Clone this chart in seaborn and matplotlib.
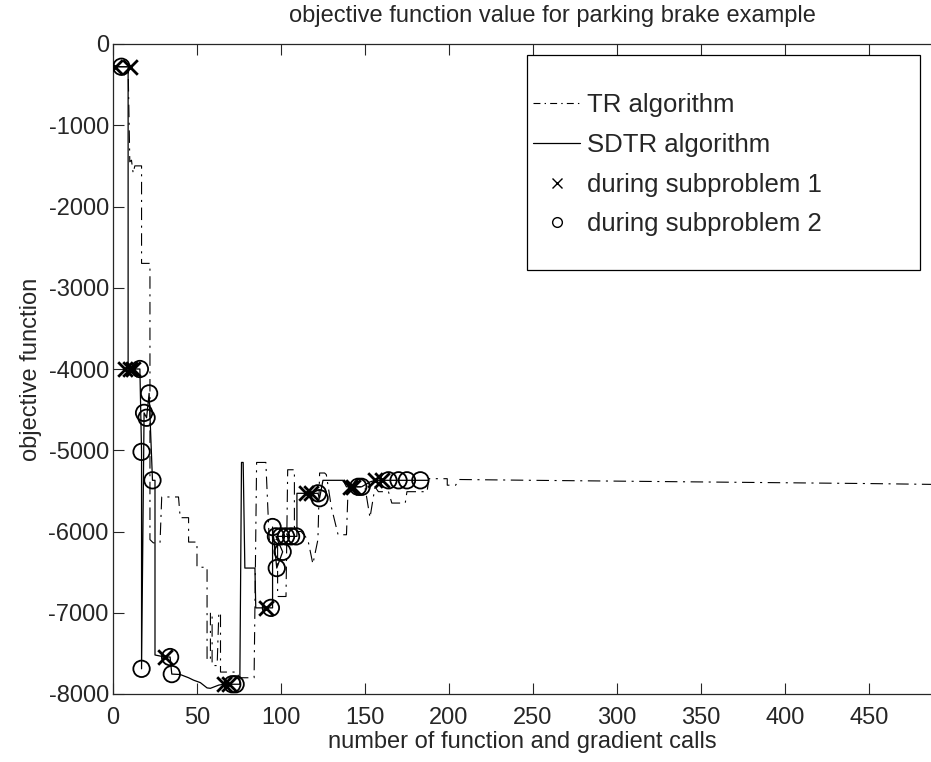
import matplotlib
matplotlib.use("Agg")
import matplotlib.pyplot as plt
import seaborn as sns
from matplotlib.lines import Line2D
from matplotlib.patches import Rectangle

# TR algorithm (dash-dot)
tr_x = [1, 9, 10, 11, 12, 13, 17, 17, 22, 22, 24, 28, 29, 39, 40, 45, 45, 50, 50, 56,
        56, 58, 58, 59, 59, 62, 63, 64, 64, 74, 75, 84, 85.5, 91, 93, 98, 98, 103, 104, 108,
        108, 112, 116, 119, 122, 123, 126, 127, 130, 134, 139, 140, 148, 150, 153, 156, 158, 164, 166, 174,
        175, 184, 187, 188, 199, 199, 204, 206, 250, 300, 350, 400, 450, 487]
tr_y = [-280, -280, -1450, -1430, -1590, -1500, -1500, -2700, -2700, -6100,
        -6140, -6140, -5575, -5575, -5830, -5830, -6130, -6130, -6440, -6440,
        -7580, -7580, -7000, -7000, -7650, -7650, -7000, -7000, -7730, -7730,
        -7800, -7800, -5150, -5150, -6100, -6100, -6800, -6800, -5240, -5240,
        -6000, -6000, -6100, -6400, -6100, -5280, -5280, -5300, -5700, -6040,
        -6040, -5450, -5450, -5450, -5830, -5450, -5510, -5510, -5650, -5650,
        -5510, -5510, -5510, -5350, -5350, -5430, -5430, -5360, -5370, -5380,
        -5390, -5400, -5410, -5420]

# SDTR algorithm (solid)
sdtr_x = [1, 9, 9, 16, 17, 17, 18.5, 20, 21.5, 23.5, 25, 25, 31, 34, 35, 40, 45, 48, 52, 56,
          58, 63, 66, 75.5, 76.5, 77.5, 78.5, 84.5, 85, 90, 95, 95, 97.5, 101, 97, 109.5, 109.5, 116, 122, 123,
          125, 137, 139, 148, 153, 156, 187.5]
sdtr_y = [-280, -280, -4000, -4000, -5020, -7690, -4540, -4600, -4300, -5370,
          -5370, -7520, -7545, -7545, -7755, -7760, -7800, -7830, -7860, -7925,
          -7930, -7890, -7880, -7880, -5150, -5150, -6450, -6450, -6940, -6940,
          -6940, -5945, -6450, -6250, -6060, -6060, -5530, -5530, -5530, -5590,
          -5370, -5370, -5450, -5450, -5390, -5370, -5370]

# markers
sub1_x = [1, 10, 7, 10, 12, 31, 66, 69, 91, 115, 118, 141, 143, 156, 160]
sub1_y = [-280, -280, -4000, -4000, -4000, -7545, -7880, -7880, -6940, -5530, -5530, -5450, -5450, -5370, -5370]
sub2_x = [5, 16, 17, 17, 18.5, 20, 21.5, 23.5, 34, 35, 71, 73, 94, 95, 97.5, 101, 97, 100, 103, 106,
          109, 122, 123, 146, 148, 164, 170, 175, 183]
sub2_y = [-280, -4000, -5020, -7690, -4540, -4600, -4300, -5370, -7545, -7755, -7880, -7880, -6940, -5945, -6450,
          -6250, -6060, -6060, -6060, -6060, -6060, -5530, -5590, -5450, -5450, -5370, -5370, -5370, -5370]

sns.set_style("ticks")
plt.rcParams['font.family'] = ['Liberation Sans', 'DejaVu Sans']
plt.rcParams['axes.unicode_minus'] = False
plt.rcParams['lines.scale_dashes'] = False

fig = plt.figure(figsize=(9.31, 7.62), dpi=100)
ax = fig.add_axes([113 / 931, 1 - 694 / 762, 1 - 113 / 931, 650 / 762])

dashdot = (0, (9, 4, 1.5, 4))
sns.lineplot(x=tr_x, y=tr_y, sort=False, estimator=None, color="k", lw=0.8, ax=ax)
ax.lines[-1].set_linestyle(dashdot)
sns.lineplot(x=sdtr_x, y=sdtr_y, sort=False, estimator=None, color="k", lw=0.9, ax=ax)
sns.scatterplot(x=sub1_x, y=sub1_y, marker="x", s=110, color="k", linewidth=2.0, ax=ax, zorder=4)
sns.scatterplot(x=sub2_x, y=sub2_y, marker="o", s=140, facecolors="none", edgecolor="k",
                linewidth=1.3, ax=ax, zorder=4)

ax.set_xlim(0, 487)
ax.set_ylim(-8000, 0)
ax.set_xticks(range(0, 451, 50))
ax.set_yticks(range(-8000, 1, 1000))
ax.tick_params(direction="in", length=8, width=0.8, top=True, labelsize=17)
ax.tick_params(axis="x", pad=9)
ax.tick_params(axis="y", pad=3)
for side in ["left", "bottom", "top"]:
    ax.spines[side].set_visible(True)
    ax.spines[side].set_linewidth(0.9)
ax.spines["right"].set_visible(False)

ax.set_xlabel("number of function and gradient calls", fontsize=17, labelpad=2)
ax.set_ylabel("objective function", fontsize=17, labelpad=5)
ax.set_title("objective function value for parking brake example", fontsize=17, x=0.537, pad=16)

# legend box
ax.add_patch(Rectangle((0.506, 0.652), 0.481, 0.331, transform=ax.transAxes,
                       facecolor="white", edgecolor="k", lw=0.9, zorder=5))
handles = [Line2D([], [], color="k", lw=0.8, linestyle=(0, (5, 3, 1, 3))),
           Line2D([], [], color="k", lw=0.9),
           Line2D([], [], color="k", marker="x", linestyle="none", markersize=7, markeredgewidth=1.0),
           Line2D([], [], color="k", marker="o", linestyle="none", markersize=7, markerfacecolor="none",
                  markeredgewidth=1.0)]
labels = ["TR algorithm", "SDTR algorithm", "during subproblem 1", "during subproblem 2"]
leg = ax.legend(handles, labels, loc="upper left", bbox_to_anchor=(0.5046, 0.937), borderaxespad=0,
                frameon=False, fontsize=18.5, handlelength=1.8, handletextpad=0.28,
                labelspacing=0.62, borderpad=0.3, numpoints=1)
leg.set_zorder(6)

fig.savefig("out.png", dpi=100)
